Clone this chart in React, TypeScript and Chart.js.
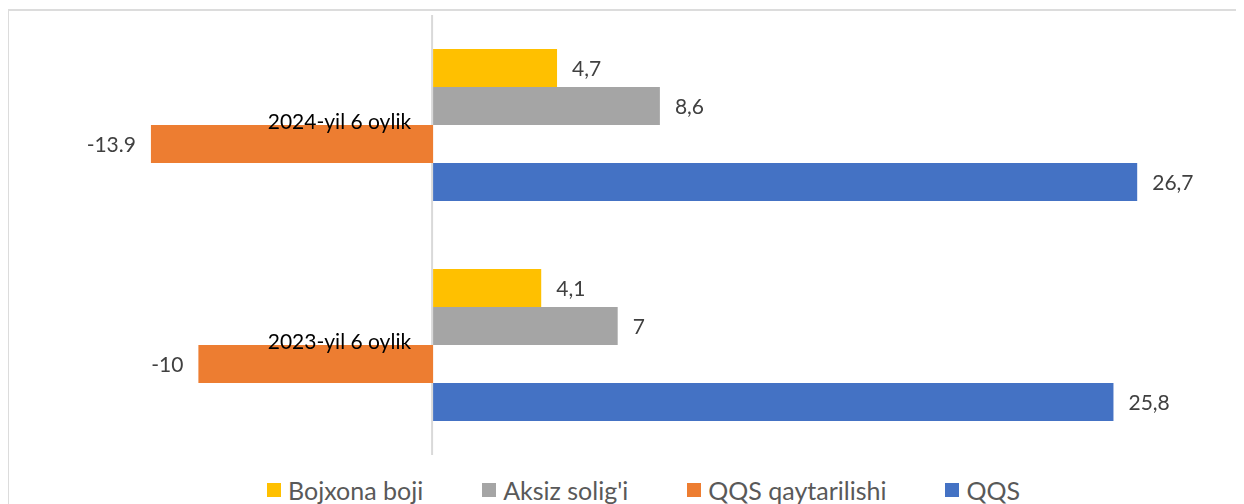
import React, { useEffect, useRef } from "react";
import { Chart, registerables } from "chart.js";

Chart.register(...registerables);

// ---- data ----
const categories = ["2024-yil 6 oylik", "2023-yil 6 oylik"];
const seriesNames = ["Bojxona boji", "Aksiz solig'i", "QQS qaytarilishi", "QQS"];
const seriesColors = ["#FFC000", "#A5A5A5", "#ED7D31", "#4472C4"];
const bojxonaBoji = [4.7, 4.1];
const aksizSoligi = [8.6, 7];
// bar lengths as drawn in the picture (their printed labels differ)
const qqsQaytarilishi = [-10.7, -8.9];
const qqs = [26.7, 25.8];
const bojxonaLabels = ["4,7", "4,1"];
const aksizLabels = ["8,6", "7"];
const qqsQaytarilishiLabels = ["-13.9", "-10"];
const qqsLabels = ["26,7", "25,8"];

const seriesValues = [bojxonaBoji, aksizSoligi, qqsQaytarilishi, qqs];
const seriesLabels = [bojxonaLabels, aksizLabels, qqsQaytarilishiLabels, qqsLabels];

const FONT = "Lato, 'Open Sans', sans-serif";

const annotatePlugin = {
  id: "annotate",
  beforeDatasetsDraw(chart: any) {
    const { ctx, chartArea, scales } = chart;
    const x0 = scales.x.getPixelForValue(0);
    ctx.save();
    ctx.strokeStyle = "#d9d9d9";
    ctx.lineWidth = 2;
    ctx.beginPath();
    ctx.moveTo(x0 - 1, chartArea.top);
    ctx.lineTo(x0 - 1, chartArea.bottom);
    ctx.stroke();
    ctx.restore();
  },
  afterDatasetsDraw(chart: any) {
    const { ctx, scales } = chart;
    const x0 = scales.x.getPixelForValue(0);
    ctx.save();
    ctx.font = `21px ${FONT}`;
    ctx.fillStyle = "#404040";
    ctx.textBaseline = "middle";
    chart.data.datasets.forEach((ds: any, di: number) => {
      const meta = chart.getDatasetMeta(di);
      meta.data.forEach((bar: any, i: number) => {
        const v = ds.data[i];
        const txt = seriesLabels[di][i];
        if (v >= 0) {
          ctx.textAlign = "left";
          ctx.fillText(txt, bar.x + 15, bar.y + 1);
        } else {
          ctx.textAlign = "right";
          ctx.fillText(txt, bar.x - 15, bar.y + 1);
        }
      });
    });
    ctx.fillStyle = "#000000";
    ctx.textAlign = "right";
    categories.forEach((c, i) => {
      const yc = scales.y.getPixelForValue(i);
      ctx.fillText(c, x0 - 22, yc - 3);
    });
    ctx.restore();
  },
};

export default function App() {
  const ref = useRef<HTMLCanvasElement | null>(null);

  useEffect(() => {
    if (!ref.current) return;
    const chart = new Chart(ref.current, {
      type: "bar",
      data: {
        labels: categories,
        datasets: seriesNames.map((name, i) => ({
          label: name,
          data: seriesValues[i],
          backgroundColor: seriesColors[i],
          borderWidth: 0,
          categoryPercentage: 0.691,
          barPercentage: 1,
        })),
      },
      options: {
        indexAxis: "y",
        responsive: false,
        animation: false,
        layout: { padding: { top: 7, bottom: 3, left: 0, right: 0 } },
        plugins: {
          legend: { display: false },
          title: { display: false },
          tooltip: { enabled: false },
        },
        scales: {
          x: { display: false, min: -16.12, max: 30.75 },
          y: { display: false, offset: true },
        },
      },
      plugins: [annotatePlugin],
    });
    return () => chart.destroy();
  }, []);

  return (
    <div style={{ position: "relative", width: 1236, height: 496, overflow: "hidden" }}>
      <div style={{ position: "absolute", left: -1, top: 1, width: 1240, height: 2, background: "#dcdcdc" }} />
      <div style={{ position: "absolute", left: -1, top: 1, width: 2, height: 500, background: "#dcdcdc" }} />
      <canvas ref={ref} width={1236} height={450} style={{ position: "absolute", left: 0, top: 0 }} />
      <div
        style={{
          position: "absolute",
          left: 259,
          top: 468,
          height: 28,
          display: "flex",
          alignItems: "center",
          gap: 59,
          fontFamily: FONT,
          fontSize: 25,
          color: "#595959",
          whiteSpace: "nowrap",
        }}
      >
        {seriesNames.map((n, i) => (
          <div key={n} style={{ display: "flex", alignItems: "center", height: 28 }}>
            <span style={{ display: "inline-block", width: 14, height: 14, background: seriesColors[i], marginRight: 7 }} />
            <span style={{ lineHeight: "28px" }}>{n}</span>
          </div>
        ))}
      </div>
    </div>
  );
}
